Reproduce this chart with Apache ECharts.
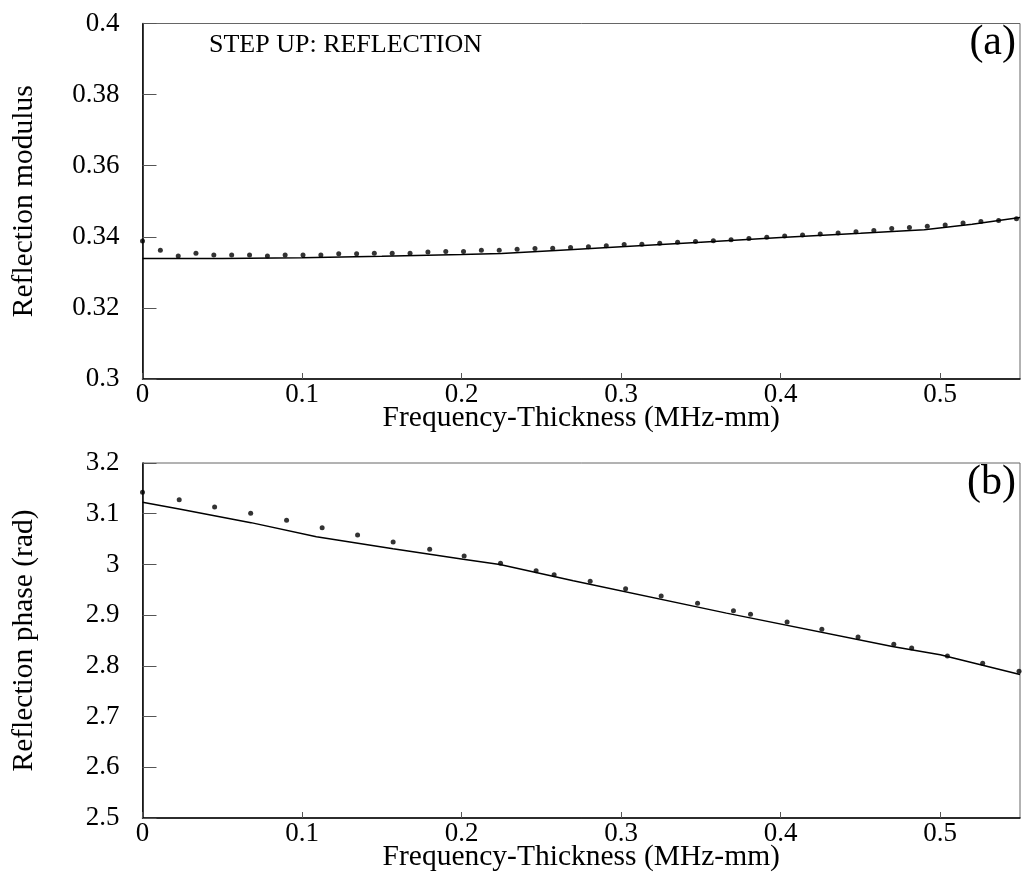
<!DOCTYPE html>
<html>
<head>
<meta charset="utf-8">
<script src="https://cdn.jsdelivr.net/npm/echarts@6/dist/echarts.min.js"></script>
<style>
html,body{margin:0;padding:0;background:#fff;}
#chart{width:1022px;height:874px;}
</style>
</head>
<body>
<div id="chart"></div>
<script>
// Panel (a): reflection modulus
const modX = [0, 0.0112, 0.0224, 0.0335, 0.0447, 0.0559, 0.0671, 0.0783, 0.0894, 0.1006,
  0.1118, 0.1230, 0.1342, 0.1453, 0.1565, 0.1677, 0.1789, 0.1901, 0.2012, 0.2124,
  0.2236, 0.2348, 0.2460, 0.2571, 0.2683, 0.2795, 0.2907, 0.3019, 0.3130, 0.3242,
  0.3354, 0.3466, 0.3578, 0.3689, 0.3801, 0.3913, 0.4025, 0.4137, 0.4248, 0.4360,
  0.4472, 0.4584, 0.4696, 0.4807, 0.4919, 0.5031, 0.5143, 0.5255, 0.5366, 0.5478];
const modDots = [0.3388, 0.3362, 0.3346, 0.3354, 0.3349, 0.3349, 0.3349, 0.3346, 0.3349, 0.3349,
  0.3349, 0.3352, 0.3352, 0.3354, 0.3354, 0.3354, 0.3357, 0.3359, 0.3359, 0.3362,
  0.3362, 0.3365, 0.3367, 0.3368, 0.3370, 0.3372, 0.3375, 0.3378, 0.3379, 0.3382,
  0.3385, 0.3387, 0.3389, 0.3392, 0.3395, 0.3399, 0.3402, 0.3405, 0.3408, 0.3411,
  0.3414, 0.3418, 0.3423, 0.3426, 0.3430, 0.3433, 0.3439, 0.3443, 0.3446, 0.3451];
const modLineX = [0, 0.05, 0.1, 0.15, 0.2, 0.225, 0.262, 0.3, 0.35, 0.4, 0.45, 0.49, 0.52, 0.55];
const modLineY = [0.3339, 0.3339, 0.3341, 0.3345, 0.3350, 0.3353, 0.3362, 0.3372, 0.3385, 0.3398, 0.3410, 0.3420, 0.3435, 0.3454];

// Panel (b): reflection phase
const phX = [0, 0.0230, 0.0452, 0.0678, 0.0903, 0.1126, 0.1348, 0.1571, 0.1800, 0.2016,
  0.2244, 0.2467, 0.2580, 0.2806, 0.3028, 0.3251, 0.3479, 0.3704, 0.3811, 0.4040,
  0.4258, 0.4485, 0.4709, 0.4821, 0.5045, 0.5266, 0.5494];
const phDots = [3.1423, 3.1277, 3.1133, 3.1009, 3.0871, 3.0725, 3.0581, 3.0443, 3.0299, 3.0167,
  3.0023, 2.9877, 2.9798, 2.9668, 2.9522, 2.9378, 2.9234, 2.9088, 2.9017, 2.8865,
  2.8721, 2.8569, 2.8425, 2.8352, 2.8195, 2.8051, 2.7893];
const phLineX = [0, 0.023, 0.068, 0.109, 0.157, 0.201, 0.224, 0.27, 0.366, 0.47, 0.5, 0.55];
const phLineY = [3.1226, 3.1094, 3.0824, 3.0547, 3.0311, 3.0101, 3.0, 2.968, 2.904, 2.838, 2.822, 2.783];

// Axis settings
const xTicks = { min: 0, max: 0.55, interval: 0.1 };
const modTicks = { min: 0.3, max: 0.4, interval: 0.02 };
const phTicks = { min: 2.5, max: 3.2, interval: 0.1 };
const xTitle = 'Frequency-Thickness (MHz-mm)';
const modTitle = 'Reflection modulus';
const phTitle = 'Reflection phase (rad)';
const annoTop = 'STEP UP: REFLECTION';
const panelA = '(a)';
const panelB = '(b)';

const FONT = '"Liberation Serif", "Times New Roman", serif';

function zip(a, b) { return a.map((v, i) => [v, b[i]]); }

function xAxis(gridIndex) {
  return {
    type: 'value', gridIndex: gridIndex,
    min: xTicks.min, max: xTicks.max, interval: xTicks.interval,
    name: xTitle, nameLocation: 'middle', nameGap: 24, nameMoveOverlap: false,
    nameTextStyle: { fontFamily: FONT, fontSize: 29.5, color: '#000' },
    axisLine: { show: true, onZero: false, lineStyle: { color: '#000', width: 1.5 } },
    axisTick: { show: true, inside: true, length: 6, lineStyle: { color: '#555', width: 1 } },
    axisLabel: { fontFamily: FONT, fontSize: 27, color: '#000', margin: 2, showMaxLabel: false },
    splitLine: { show: false }
  };
}
function yAxis(gridIndex, t, title) {
  return {
    type: 'value', gridIndex: gridIndex,
    min: t.min, max: t.max, interval: t.interval,
    name: title, nameLocation: 'middle', nameGap: 103, nameMoveOverlap: false,
    nameTextStyle: { fontFamily: FONT, fontSize: 29.5, color: '#000' },
    axisLine: { show: true, onZero: false, lineStyle: { color: '#000', width: 1.5 } },
    axisTick: { show: true, inside: true, length: 14, lineStyle: { color: '#555', width: 1 } },
    axisLabel: { fontFamily: FONT, fontSize: 27, color: '#000', margin: 23 },
    splitLine: { show: false }
  };
}

const chart = echarts.init(document.getElementById('chart'), null, { renderer: 'canvas' });
chart.setOption({
  backgroundColor: '#fff',
  animation: false,
  grid: [
    { left: 142.5, right: 2, top: 23.5, bottom: 495, containLabel: false, outerBoundsMode: 'none',
      show: true, borderColor: '#666', borderWidth: 1, backgroundColor: 'transparent' },
    { left: 142.5, right: 2, top: 463, bottom: 56, containLabel: false, outerBoundsMode: 'none',
      show: true, borderColor: '#666', borderWidth: 1, backgroundColor: 'transparent' }
  ],
  xAxis: [xAxis(0), xAxis(1)],
  yAxis: [yAxis(0, modTicks, modTitle), yAxis(1, phTicks, phTitle)],
  graphic: [
    { type: 'text', left: 209, top: 32, style: { text: annoTop, font: '26px ' + FONT, fill: '#000', verticalAlign: 'middle' } },
    { type: 'text', right: 6, top: 22, style: { text: panelA, font: '42px ' + FONT, fill: '#000' } },
    { type: 'text', right: 6, top: 462, style: { text: panelB, font: '42px ' + FONT, fill: '#000' } }
  ],
  series: [
    { type: 'line', xAxisIndex: 0, yAxisIndex: 0, data: zip(modLineX, modLineY), showSymbol: false, symbol: 'none',
      lineStyle: { color: '#000', width: 1.5 }, silent: true },
    { type: 'scatter', xAxisIndex: 0, yAxisIndex: 0, data: zip(modX, modDots), symbol: 'circle', symbolSize: 5,
      itemStyle: { color: '#000' }, silent: true },
    { type: 'line', xAxisIndex: 1, yAxisIndex: 1, data: zip(phLineX, phLineY), showSymbol: false, symbol: 'none',
      lineStyle: { color: '#000', width: 1.5 }, silent: true },
    { type: 'scatter', xAxisIndex: 1, yAxisIndex: 1, data: zip(phX, phDots), symbol: 'circle', symbolSize: 5,
      itemStyle: { color: '#000' }, silent: true }
  ]
});
</script>
</body>
</html>
